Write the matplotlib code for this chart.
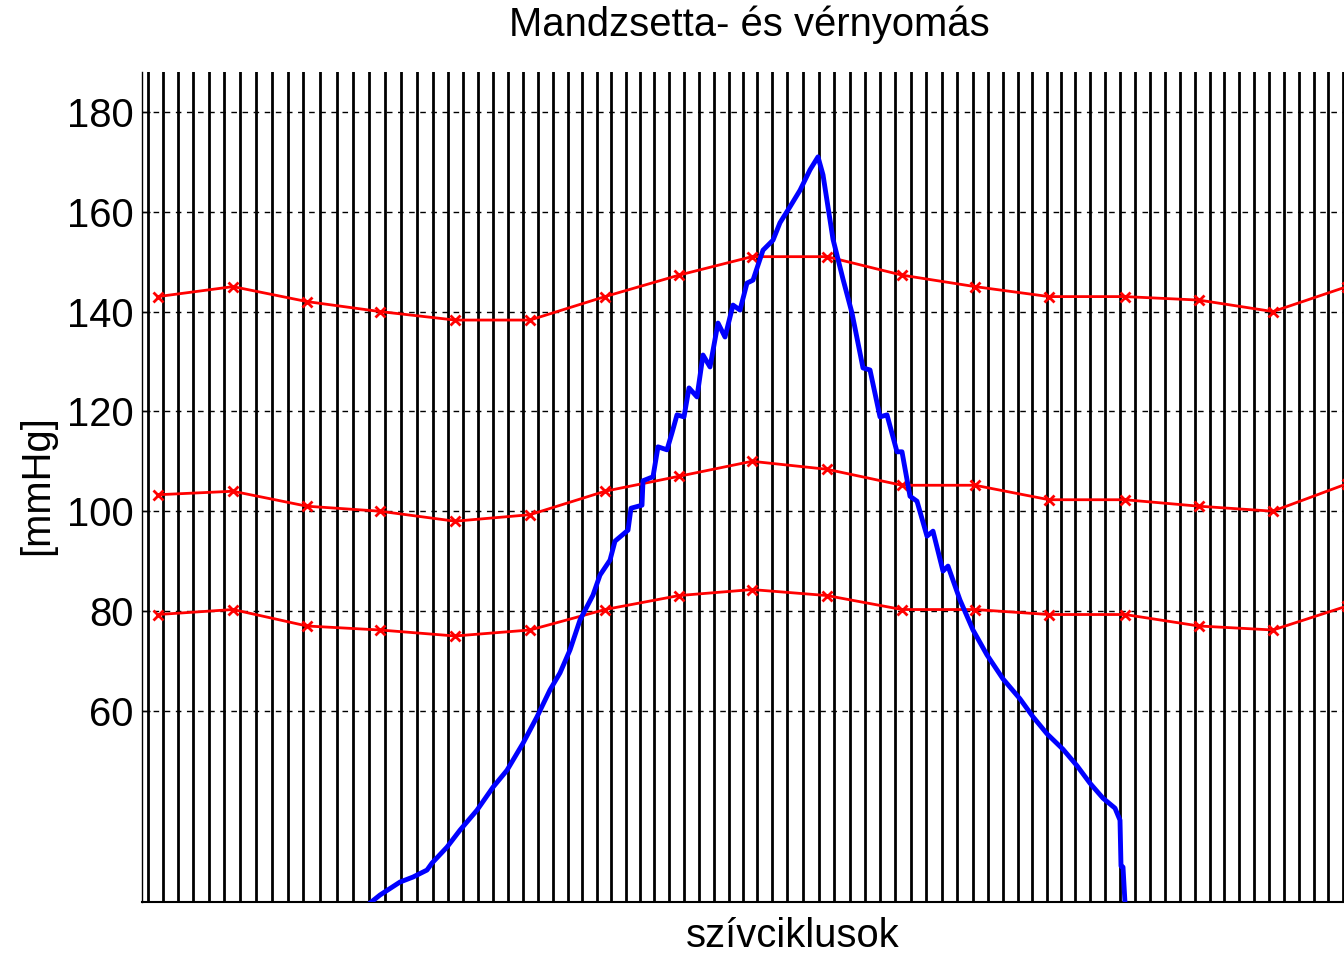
import matplotlib.pyplot as plt

plt.rcParams['font.family'] = ['Liberation Sans', 'DejaVu Sans']

# heart beat times (s)
beats = [0.32, 1.07, 1.82, 2.57, 3.37, 4.12, 4.90, 5.69, 6.49, 7.29,
         8.07, 8.90, 9.74, 10.54, 11.37, 12.15, 12.95, 13.74, 14.57, 15.32,
         16.07, 16.82, 17.57, 18.32, 19.07, 19.82, 20.57, 21.29, 21.99, 22.74,
         23.45, 24.19, 24.90, 25.62, 26.37, 27.12, 27.87, 28.62, 29.35, 30.03,
         30.74, 31.52, 32.27, 33.07, 33.85, 34.62, 35.40, 36.15, 36.90, 37.65,
         38.44, 39.20, 39.99, 40.77, 41.54, 42.32, 43.07, 43.79, 44.52, 45.25,
         45.94, 46.65, 47.40, 48.17, 48.90, 49.65, 50.40, 51.15, 51.90, 52.65,
         53.40, 54.12, 54.87, 55.62, 56.37, 57.12, 57.87, 58.60, 59.32, 60.04]

# reference blood pressure readings
bp_time = [0.80, 4.55, 8.25, 11.90, 15.65, 19.40, 23.15, 26.85, 30.50,
           34.25, 38.00, 41.65, 45.35, 49.15, 52.85, 56.55, 60.25]
systolic = [143, 145, 142, 140, 138.3, 138.3, 143, 147.3, 151,
            151, 147.3, 145, 143, 143, 142.3, 140, 145]
mean_bp = [103.3, 104, 101, 100, 98, 99.3, 104, 107, 110,
           108.4, 105.2, 105.2, 102.3, 102.3, 101, 100, 105.5]
diastolic = [79.3, 80.3, 77, 76.2, 75, 76.2, 80.3, 83.1, 84.3,
             83.1, 80.3, 80.3, 79.3, 79.3, 77, 76.2, 81]

# cuff pressure
cuff_time = [11.40, 11.90, 12.90, 13.55, 14.25, 14.50, 15.25, 15.90, 16.75,
             17.55, 18.25, 19.05, 19.75, 20.40, 20.90, 21.40, 21.90, 22.55,
             22.90, 23.40, 23.65, 24.30, 24.45, 25.00, 25.05, 25.55, 25.80,
             26.25, 26.50, 26.75, 27.10, 27.35, 27.75, 28.05, 28.40, 28.80,
             29.15, 29.55, 29.90, 30.25, 30.55, 31.05, 31.55, 31.90, 32.40,
             32.90, 33.40, 33.80,
             34.05, 34.55, 35.05, 35.50, 36.05, 36.40, 36.90, 37.25, 37.75,
             38.00, 38.40, 38.75, 39.25, 39.55, 40.05, 40.30, 40.90, 41.55,
             42.25, 43.05, 43.90, 44.55, 45.25, 46.05, 46.75, 47.40, 48.05,
             48.65, 48.90, 48.95, 49.05, 49.15]
cuff = [21.5, 23.1, 25.7, 26.7, 28.1, 29.5, 32.7, 36.1, 40.1,
        44.7, 48.1, 53.5, 58.8, 64.2, 67.6, 72.2, 78.2, 83.2,
        87.2, 90.2, 94.0, 96.2, 100.6, 101.2, 106.1, 106.9, 112.9,
        112.3, 115.7, 119.3, 118.9, 124.7, 122.9, 131.3, 128.9, 137.7,
        134.9, 141.3, 140.3, 145.7, 146.3, 152.3, 154.3, 157.8, 161.0,
        164.3, 168.4, 171.0,
        167.4, 154.5, 146.5, 139.7, 128.7, 128.3, 118.9, 119.3, 111.9,
        111.9, 103.0, 102.0, 95.0, 96.0, 88.0, 89.0, 82.2, 76.2,
        71.2, 66.4, 62.4, 58.8, 55.4, 52.3, 49.0, 45.5, 42.5,
        40.5, 38.1, 28.9, 28.7, 21.5]

yticks = [60, 80, 100, 120, 140, 160, 180]

fig = plt.figure(figsize=(13.44, 9.55), dpi=100)
ax = fig.add_axes([142 / 1344, 53 / 955, 1215 / 1344, 830 / 955])

for t in beats:
    ax.axvline(t, color='black', lw=2.0, zorder=1)

for y in yticks:
    ax.axhline(y, color='black', lw=1.0, ls=(0, (4, 4)), zorder=2)

for series in (systolic, mean_bp, diastolic):
    ax.plot(bp_time, series, color='red', lw=2.0, marker='x',
            markersize=7, mew=2.0, zorder=3)

ax.plot(cuff_time, cuff, color='blue', lw=3.5, zorder=4)

ax.set_xlim(0, 60.75)
ax.set_ylim(21.7, 188)
ax.set_xticks([])
ax.set_yticks(yticks)
ax.tick_params(axis='y', direction='in', length=6, width=1, pad=6,
               labelsize=28.8)
ax.spines['top'].set_visible(False)
ax.spines['right'].set_visible(False)
ax.spines['left'].set_linewidth(1.0)
ax.spines['bottom'].set_linewidth(1.5)

fig.text(749 / 1344, 1 - 25 / 955, 'Mandzsetta- és vérnyomás',
         ha='center', va='center', fontsize=28.8)
fig.text(793 / 1344, 1 - 936 / 955, 'szívciklusok',
         ha='center', va='center', fontsize=28.8)
fig.text(37 / 1344, 1 - 485 / 955, '[mmHg]', rotation=90,
         ha='center', va='center', fontsize=28.8)

fig.savefig('out.png', dpi=100)
